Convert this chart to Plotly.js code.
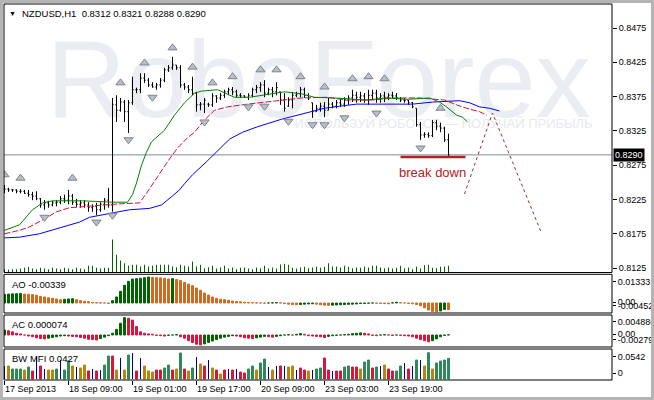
<!DOCTYPE html>
<html><head><meta charset="utf-8">
<script src="https://cdn.plot.ly/plotly-3.0.1.min.js"></script>
<style>html,body{margin:0;padding:0;background:#fff;}#chart{width:654px;height:400px;}</style>
</head><body><div id="chart"></div>
<script>
// ---------- data ----------
const symbolName = 'NZDUSD,H1';
const tickBars = [0,16,32,48,64,80,96];
const tickLabels = ['17 Sep 2013','18 Sep 09:00','19 Sep 01:00','19 Sep 17:00','20 Sep 09:00','23 Sep 03:00','23 Sep 19:00'];
const priceTicks = [0.8125,0.8175,0.8225,0.8275,0.8325,0.8375,0.8425,0.8475];

const open = [
.8243,.8240,.8239,.8239,.8237,.8237,.8234,.8232,.8230,.8226,
.8217,.8220,.8217,.8220,.8221,.8226,.8224,.8230,.8221,.8218,
.8220,.8217,.8213,.8215,.8210,.8218,.8224,.8217,.8363,.8355,
.8367,.8353,.8366,.8385,.8385,.8402,.8399,.8392,.8389,.8392,
.8399,.8414,.8417,.8421,.8417,.8392,.8389,.8385,.8380,.8363,
.8364,.8364,.8363,.8376,.8373,.8377,.8382,.8385,.8382,.8377,
.8376,.8374,.8377,.8385,.8388,.8392,.8380,.8385,.8382,.8382,
.8370,.8361,.8370,.8377,.8379,.8385,.8377,.8366,.8353,.8358,
.8361,.8355,.8364,.8361,.8366,.8364,.8370,.8373,.8377,.8374,
.8376,.8370,.8377,.8380,.8373,.8376,.8374,.8377,.8376,.8373,
.8370,.8369,.8366,.8358,.8334,.8319,.8320,.8318,.8337,.8332,
.8329,.8312];
const high = [
.8246,.8242,.8240,.8240,.8240,.8239,.8239,.8236,.8237,.8227,
.8224,.8223,.8223,.8224,.8230,.8232,.8239,.8233,.8226,.8224,
.8224,.8221,.8218,.8220,.8221,.8227,.8242,.8373,.8377,.8373,
.8370,.8370,.8404,.8388,.8409,.8409,.8402,.8396,.8395,.8402,
.8417,.8421,.8433,.8421,.8421,.8395,.8392,.8404,.8382,.8367,
.8373,.8366,.8380,.8377,.8380,.8385,.8388,.8389,.8385,.8380,
.8377,.8380,.8388,.8392,.8396,.8399,.8388,.8389,.8396,.8382,
.8380,.8374,.8382,.8382,.8389,.8388,.8380,.8366,.8363,.8366,
.8367,.8373,.8367,.8370,.8373,.8374,.8377,.8385,.8382,.8382,
.8380,.8385,.8385,.8385,.8380,.8382,.8380,.8382,.8380,.8374,
.8373,.8370,.8367,.8358,.8338,.8323,.8323,.8341,.8341,.8337,
.8331,.8321];
const low = [
.8234,.8236,.8236,.8234,.8234,.8233,.8229,.8224,.8224,.8213,
.8210,.8213,.8215,.8215,.8218,.8220,.8218,.8217,.8214,.8213,
.8213,.8207,.8207,.8202,.8207,.8210,.8213,.8207,.8338,.8353,
.8338,.8322,.8363,.8380,.8380,.8395,.8389,.8388,.8385,.8388,
.8396,.8411,.8414,.8414,.8388,.8385,.8380,.8377,.8353,.8355,
.8351,.8360,.8360,.8366,.8370,.8373,.8377,.8377,.8374,.8373,
.8373,.8370,.8374,.8380,.8382,.8374,.8377,.8374,.8377,.8363,
.8353,.8360,.8358,.8374,.8374,.8373,.8370,.8344,.8353,.8353,
.8345,.8355,.8358,.8358,.8360,.8360,.8363,.8367,.8366,.8367,
.8366,.8363,.8370,.8366,.8366,.8367,.8370,.8373,.8370,.8367,
.8366,.8363,.8358,.8331,.8312,.8315,.8315,.8316,.8326,.8323,
.8309,.8288];
const close = [
.8240,.8239,.8239,.8237,.8237,.8234,.8232,.8230,.8226,.8217,
.8220,.8217,.8220,.8221,.8226,.8224,.8230,.8221,.8218,.8220,
.8217,.8213,.8215,.8210,.8218,.8224,.8217,.8363,.8355,.8367,
.8353,.8366,.8385,.8385,.8402,.8399,.8392,.8389,.8392,.8399,
.8414,.8417,.8421,.8417,.8392,.8389,.8385,.8380,.8363,.8364,
.8370,.8363,.8376,.8373,.8377,.8382,.8385,.8382,.8377,.8376,
.8374,.8377,.8385,.8388,.8392,.8380,.8385,.8382,.8388,.8370,
.8358,.8370,.8377,.8379,.8385,.8377,.8373,.8353,.8358,.8361,
.8355,.8364,.8361,.8366,.8364,.8370,.8373,.8377,.8374,.8376,
.8370,.8377,.8380,.8373,.8376,.8374,.8377,.8376,.8373,.8370,
.8369,.8366,.8360,.8334,.8319,.8320,.8318,.8337,.8332,.8329,
.8312,.8290];
const volume = [
330,270,330,330,400,470,570,400,330,470,
400,330,470,400,330,470,400,330,470,400,
330,670,670,470,400,470,470,3300,1770,1200,
930,670,770,770,600,770,600,670,770,770,
770,770,600,530,770,670,600,1100,600,770,
430,530,670,400,500,670,400,500,330,470,
500,400,330,500,430,670,400,500,400,800,
870,770,470,400,500,570,430,500,600,470,
570,930,600,600,500,670,570,430,500,470,
600,500,670,670,500,430,500,400,470,670,
430,500,330,600,400,730,770,470,430,570,
600,670];

// Alligator lines (bar index, price)
const jawX = [0,3.75,8.75,13.75,18.75,21.25,26.25,31.25,36.25,39.25,41.75,43.75,45,47,50.5,53.75,56.25,59.5,63.25,69.25,75,80,83.75,88,95.5,102,107,113.75,116.25,118.75,121.25,123.75];
const jawY = [.8169,.8170,.8175,.8183,.8192,.8199,.8205,.8210,.8212,.8217,.8229,.8239,.8248,.8261,.8280,.8299,.8313,.8323,.8331,.8342,.8351,.8358,.8361,.8364,.8364,.8364,.8367,.8369,.8366,.8360,.8358,.8354];
const teethX = [0,3.75,6.25,9.5,13,16.25,18.75,23.75,27,33.75,35.5,38.25,40.75,43.25,45.75,47.5,50,52.5,55.75,60.75,65,69.25,74.25,80.5,85.5,92,97,103.75,110,113,115.5,118.75,120.5];
const teethY = [.8175,.8180,.8185,.8195,.8207,.8213,.8214,.8217,.8218,.8220,.8234,.8258,.8280,.8300,.8315,.8323,.8341,.8355,.8360,.8364,.8367,.8370,.8373,.8374,.8370,.8370,.8373,.8373,.8370,.8363,.8358,.8353,.8348];
const lipsX = [0,3.75,7,9.5,12,19.5,27,30.75,32,33,34.25,35.5,36.75,38.75,40,42.5,45,47.5,49.25,53.25,55,57.5,61.25,65,70,74.25,77.5,82.5,90.5,95.5,100.5,106.25,108.75,110.5,113,114.5,115.75];
const lipsY = [.8180,.8188,.8210,.8220,.8223,.8223,.8221,.8221,.8232,.8249,.8275,.8294,.8309,.8319,.8326,.8348,.8366,.8380,.8383,.8385,.8380,.8374,.8374,.8377,.8382,.8379,.8374,.8373,.8370,.8373,.8371,.8373,.8367,.8360,.8348,.8345,.8338];

// Fractals
const fracUpX = [0,4,17,29,35,42,47,52,57,64,68,74,80,87,91,95,109];
const fracUpY = [.8261,.8256,.8256,.8395,.8424,.8446,.8418,.8395,.8404,.8414,.8414,.8404,.8389,.8401,.8404,.8401,.8358];
const fracDnX = [10,23,27,31,37,50,61,65,71,77,80,85,93,104];
const fracDnY = [.8199,.8192,.8202,.8312,.8374,.8338,.8360,.8361,.8339,.8334,.8334,.8344,.8351,.8300];

// Analyst drawings
const breakX = [99,115.25];
const breakY = [.8287,.8287];
const forecastX = [115,122,134.25];
const forecastY = [.8233,.8351,.8176];
const breakText = 'break down';

// Awesome Oscillator
const ao = [
.0044,.0046,.0047,.0048,.0049,.0046,.0045,.0043,.0040,.0034,
.0031,.0027,.0024,.0021,.0017,.0019,.0021,.0022,.0017,.0012,
.0009,.0007,.0003,.0002,.0001,.0000,-.0002,.0012,.0031,.0060,
.0091,.0111,.0123,.0125,.0127,.0130,.01333,.0132,.0130,.0129,
.0127,.0123,.0125,.0120,.0115,.0106,.0097,.0089,.0077,.0065,
.0051,.0041,.0031,.0024,.0019,.0017,.0014,.0010,.0008,.0006,
.0004,.0003,.0002,.0001,.0000,-.0001,.0000,.0001,.0002,.0001,
-.0003,-.0006,-.0008,-.0009,-.0008,-.0006,-.0005,-.0004,-.0006,-.0009,
-.0011,-.0012,-.0011,-.0010,-.0009,-.0008,-.0007,-.0006,-.0005,-.0003,
-.0002,-.0001,.0000,-.0001,-.0002,-.0003,-.0004,.0001,.0004,.0002,
.0000,-.0002,-.0004,-.0008,-.0014,-.0025,-.0036,-.0043,-.00452,-.0041,
-.0033,-.00339];
// Accelerator Oscillator
const ac = [
.0014,.0012,.0009,.0005,.0003,.0000,-.0003,-.0005,-.0008,-.0010,
-.0011,-.0009,-.0007,-.0005,-.0003,-.0002,-.0003,-.0004,-.0005,-.0007,
-.0009,-.0012,-.0013,-.0014,-.0010,-.0006,-.0002,.0005,.0016,.0033,
.004886,.0047,.0042,.0024,.0009,.0005,.0003,.0002,-.0001,-.0002,
-.0003,-.0001,.0000,.0001,-.0005,-.0009,-.0016,-.0021,-.0026,-.002797,
-.0025,-.0021,-.0017,-.0013,-.0009,-.0006,-.0004,-.0002,-.0003,-.0005,
-.0008,-.0009,-.0010,-.0008,-.0006,-.0004,-.0005,-.0006,-.0004,-.0002,
.0000,.0001,.0000,.0002,.0004,.0002,-.0002,-.0003,-.0004,-.0005,
-.0007,-.0004,-.0002,-.0001,.0000,.0001,.0002,.0004,.0005,.0006,
.0005,.0003,-.0001,-.0002,.0000,.0001,.0000,-.0001,.0000,-.0001,
-.0002,-.0003,-.0005,-.0009,-.0013,-.0016,-.0019,-.0016,-.0011,-.0005,
-.0001,.000074];
// Market Facilitation Index
const mfi = [
.0268,.0268,.0206,.0206,.0206,.0185,.0247,.0165,.0453,.0268,
.0206,.0185,.0185,.0206,.0391,.0185,.0371,.0268,.0247,.0227,
.0288,.0165,.0206,.0165,.0185,.0288,.0474,.0474,.0185,.0433,
.0185,.0494,.0536,.0165,.0433,.0268,.0165,.0144,.0185,.0185,
.0227,.0288,.0185,.0206,.0536,.0206,.0165,.0227,.0453,.0309,
.0268,.0391,.0227,.0185,.0103,.0185,.0206,.0185,.0206,.0144,
.0124,.0206,.0268,.0185,.0330,.0412,.0247,.0185,.0268,.0268,
.0268,.0247,.0268,.0185,.0227,.0185,.0165,.0185,.0206,.0227,
.0433,.0185,.0165,.0165,.0165,.0247,.0268,.0247,.0247,.0206,
.0350,.0391,.0227,.0247,.0268,.0288,.0206,.0165,.0165,.0268,
.0330,.0206,.0268,.0391,.0391,.0268,.0542,.0206,.0330,.0371,
.0391,.0427];
const mfiKind = [
'n','b','g','g','g','b','g','r','n','r',
'n','b','b','g','n','g','g','b','n','b',
'b','r','n','r','n','g','g','r','b','n',
'b','g','n','r','n','b','b','b','r','r',
'g','g','r','b','g','r','b','g','n','b',
'r','n','b','r','b','r','n','r','n','r',
'r','g','g','b','g','g','n','b','n','r',
'n','b','b','n','r','r','b','n','g','g',
'r','r','n','r','r','g','g','r','r','b',
'g','g','r','g','n','b','r','r','g','g',
'n','r','n','g','n','b','g','b','g','g',
'g','g'];

// ---------- build ----------
const N = open.length;
const idx = open.map((_, i) => i);
const last = N - 1;
const fmt4 = v => v.toFixed(4);

function upDownColors(arr, upC, dnC){
  const out = []; let up = true;
  arr.forEach((v,i)=>{ if(i>0){ if(v>arr[i-1]) up=true; else if(v<arr[i-1]) up=false; } out.push(up?upC:dnC); });
  return out;
}
const mfiColorMap = {g:'#2e8b57', b:'#b8860b', r:'#dc143c', n:'#000080'};
const mfiColors = mfiKind.map(k => mfiColorMap[k]);
const mfiWidths = mfiKind.map(k => k==='n' ? 0.25 : 0.5);
const mfiLineW = mfiKind.map(k => k==='n' ? 0 : 1);

const FONT = 'Liberation Sans, Arial, sans-serif';

const traces = [
  // watermark (base axis, drawn first / below)
  {type:'scatter', mode:'text', x:[10.5], y:[0.68], text:['RoboForex'], textposition:'middle right',
   textfont:{family:FONT, size:110, color:'#eaedf2'}, xaxis:'x', yaxis:'y', hoverinfo:'skip', cliponaxis:true},
  {type:'scatter', mode:'text', x:[72.5], y:[0.552], text:['ИСПОЛЬЗУЙ РОБОТОВ — ПОЛУЧАЙ ПРИБЫЛЬ'], textposition:'middle right',
   textfont:{family:FONT, size:13, color:'#e6e9ef'}, xaxis:'x', yaxis:'y', hoverinfo:'skip'},
  // volume
  {type:'bar', x:idx, y:volume, xaxis:'x', yaxis:'y3', width:0.25, marker:{color:'#006400', line:{width:0}}, hoverinfo:'skip'},
  // alligator
  {type:'scatter', mode:'lines', x:jawX, y:jawY, xaxis:'x', yaxis:'y2', line:{color:'#0000ff', width:1}, hoverinfo:'skip'},
  {type:'scatter', mode:'lines', x:teethX, y:teethY, xaxis:'x', yaxis:'y2', line:{color:'#d0103a', width:1, dash:'6px,2px'}, hoverinfo:'skip'},
  {type:'scatter', mode:'lines', x:lipsX, y:lipsY, xaxis:'x', yaxis:'y2', line:{color:'#008000', width:1}, hoverinfo:'skip'},
  // price bars
  {type:'ohlc', x:idx, open:open, high:high, low:low, close:close, xaxis:'x', yaxis:'y2', tickwidth:0.3,
   increasing:{line:{color:'#000', width:1}}, decreasing:{line:{color:'#000', width:1}}, hoverinfo:'skip'},
  // fractals
  {type:'scatter', mode:'markers', x:fracUpX, y:fracUpY, xaxis:'x', yaxis:'y2',
   marker:{symbol:'triangle-up', size:8, color:'#b9bfc7', line:{color:'#7d848e', width:1}}, hoverinfo:'skip'},
  {type:'scatter', mode:'markers', x:fracDnX, y:fracDnY, xaxis:'x', yaxis:'y2',
   marker:{symbol:'triangle-down', size:8, color:'#b9bfc7', line:{color:'#7d848e', width:1}}, hoverinfo:'skip'},
  // drawings
  {type:'scatter', mode:'lines', x:breakX, y:breakY, xaxis:'x', yaxis:'y2', line:{color:'#b22222', width:2.5}, hoverinfo:'skip'},
  {type:'scatter', mode:'lines', x:forecastX, y:forecastY, xaxis:'x', yaxis:'y2', line:{color:'#9b2c2c', width:1, dash:'dot'}, hoverinfo:'skip', cliponaxis:true},
  // chart shift marker
  {type:'scatter', mode:'markers', x:[N], y:[0.8513], xaxis:'x', yaxis:'y2', cliponaxis:false,
   marker:{symbol:'triangle-down', size:10, color:'#8a95a5', line:{width:0}}, hoverinfo:'skip'},
  // AO
  {type:'bar', x:idx, y:ao, xaxis:'x', yaxis:'y4', width:0.5,
   marker:{color:upDownColors(ao,'#006400','#d2691e'), line:{color:upDownColors(ao,'#006400','#d2691e'), width:1}}, hoverinfo:'skip'},
  // AC
  {type:'bar', x:idx, y:ac, xaxis:'x', yaxis:'y5', width:0.5,
   marker:{color:upDownColors(ac,'#006400','#dc143c'), line:{color:upDownColors(ac,'#006400','#dc143c'), width:1}}, hoverinfo:'skip'},
  // BW MFI
  {type:'bar', x:idx, y:mfi, xaxis:'x', yaxis:'y6', width:mfiWidths,
   marker:{color:mfiColors, line:{color:mfiColors, width:mfiLineW}}, hoverinfo:'skip'}
];

const dMain=[0.2859,1], dAO=[0.1782,0.2811], dAC=[0.0878,0.1729], dMFI=[0,0.0824];
const subAxis = (domain, range, vals, texts) => ({domain, range, side:'right', anchor:'x', tickvals:vals, ticktext:texts,
  ticks:'outside', ticklen:3, tickcolor:'#000', showgrid:false, zeroline:false, showline:false, fixedrange:true,
  tickfont:{family:FONT, size:9, color:'#000'}});

const rect = (d) => ({type:'rect', xref:'paper', yref:'paper', x0:0, x1:1, y0:d[0], y1:d[1], line:{color:'#000', width:1}, fillcolor:'rgba(0,0,0,0)'});
const gray = (x0,x1,y0,y1) => ({type:'rect', xref:'paper', yref:'paper', x0, x1, y0, y1, line:{width:0}, fillcolor:'#b4b4b4'});

const layout = {
  width:654, height:400,
  margin:{l:4, r:42, t:4, b:20, pad:0},
  paper_bgcolor:'#ffffff', plot_bgcolor:'rgba(0,0,0,0)',
  showlegend:false, barmode:'overlay',
  font:{family:FONT, size:9, color:'#000'},
  xaxis:{domain:[0,1], range:[-0.125,151.875], anchor:'y6', tickvals:tickBars, ticktext:tickLabels,
    ticks:'outside', ticklen:4, tickcolor:'#000', ticklabelposition:'outside right', showgrid:false, zeroline:false,
    showline:false, rangeslider:{visible:false}, fixedrange:true, tickfont:{family:FONT, size:9, color:'#000'}},
  yaxis:{domain:dMain, range:[0,1], visible:false, fixedrange:true},
  yaxis2:{overlaying:'y', side:'right', anchor:'x', range:[0.81185,0.8510], tickvals:priceTicks, tickformat:'.4f',
    ticks:'outside', ticklen:4, tickcolor:'#000', showgrid:false, zeroline:false, showline:false, fixedrange:true,
    tickfont:{family:FONT, size:9, color:'#000'}},
  yaxis3:{overlaying:'y', range:[0,26850], visible:false, fixedrange:true},
  yaxis4:subAxis(dAO, [-0.00513,0.01472], [0.01093,0.00051,-0.00154], ['0.01333','0.00','-0.00452']),
  yaxis5:subAxis(dAC, [-0.00338,0.00564], [0.00375,0.0002,-0.00141], ['0.004886','0.00','-0.002797']),
  yaxis6:subAxis(dMFI, [-0.00206,0.0618], [0.0459,0.0117], ['0.0542','0']),
  shapes:[
    {type:'line', xref:'paper', yref:'y2', x0:0, x1:1, y0:close[last], y1:close[last], line:{color:'#7a8a9a', width:1}, layer:'below'},
    rect(dMain), rect(dAO), rect(dAC), rect(dMFI),
    gray(-0.0066,-0.0017,-0.06,1.02), gray(-0.01,1.08,1.0027,1.02), gray(1.0641,1.08,-0.06,1.02), gray(-0.01,1.08,-0.06,-0.0452)
  ],
  annotations:[
    {xref:'paper', yref:'paper', x:0.0132, y:0.976, text:'▼', showarrow:false, xanchor:'center', yanchor:'middle', font:{size:7, color:'#000'}},
    {xref:'paper', yref:'paper', x:0.0263, y:0.976, showarrow:false, xanchor:'left', yanchor:'middle',
     text: symbolName + '\u00a0\u00a0' + [open[last],high[last],low[last],close[last]].map(fmt4).join(' '), font:{family:FONT, size:9.5, color:'#000'}},
    {xref:'paper', yref:'paper', x:0.0099, y:0.2553, showarrow:false, xanchor:'left', yanchor:'middle', text:'AO ' + ao[last].toFixed(5), font:{family:FONT, size:9.5}},
    {xref:'paper', yref:'paper', x:0.0099, y:0.1489, showarrow:false, xanchor:'left', yanchor:'middle', text:'AC ' + ac[last].toFixed(6), font:{family:FONT, size:9.5}},
    {xref:'paper', yref:'paper', x:0.0099, y:0.0585, showarrow:false, xanchor:'left', yanchor:'middle', text:'BW MFI ' + mfi[last].toFixed(4), font:{family:FONT, size:9.5}},
    {xref:'x', yref:'y2', x:98, y:0.8265, showarrow:false, xanchor:'left', yanchor:'middle', text:breakText, font:{family:FONT, size:13, color:'#b22222'}},
    {xref:'paper', yref:'y2', x:1.0016, y:close[last], showarrow:false, xanchor:'left', yanchor:'middle', text:fmt4(close[last]),
     bgcolor:'#000', borderpad:1, font:{family:FONT, size:9, color:'#fff'}}
  ]
};

Plotly.newPlot('chart', traces, layout, {staticPlot:true, displayModeBar:false});
</script>
</body></html>
